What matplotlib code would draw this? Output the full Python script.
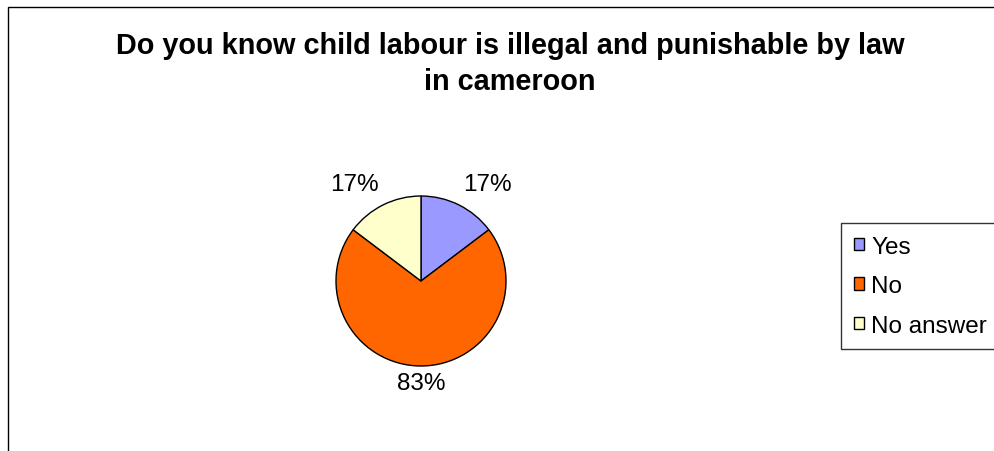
import matplotlib
matplotlib.use('Agg')
import matplotlib.pyplot as plt
from matplotlib.patches import Rectangle

plt.rcParams['font.family'] = ['Liberation Sans', 'DejaVu Sans']

title = 'Do you know child labour is illegal and punishable by law\nin cameroon'
categories = ['Yes', 'No', 'No answer']
values = [5, 24, 5]
value_labels = ['17%', '83%', '17%']
colors = ['#9999FF', '#FF6600', '#FFFFCC']

W, H = 995, 452
fig = plt.figure(figsize=(W / 100, H / 100), dpi=100)

# chart area frame (cut off at right and bottom like the original)
fig.patches.append(Rectangle((8 / W, -0.1), 1.1, 1 - 8 / H + 0.1, transform=fig.transFigure,
                             fill=False, edgecolor='black', linewidth=1.0))

fig.text(510 / W, 1 - 32 / H, title, ha='center', va='top', fontsize=20.8,
         fontweight='bold', linespacing=1.38)

# pie centred at (421, 282) px with radius 85 px
cx, cy, r = 421, 282, 85
ax = fig.add_axes([(cx - r) / W, (H - cy - r) / H, 2 * r / W, 2 * r / H])
wedges, texts = ax.pie(values, colors=colors, startangle=90, counterclock=False,
                       labels=value_labels, labeldistance=1.3,
                       wedgeprops={'edgecolor': 'black', 'linewidth': 1.0},
                       textprops={'fontsize': 17.5, 'ha': 'center', 'va': 'center'})
label_pos = [(0.78, 1.14), (0.0, -1.2), (-0.78, 1.14)]
for t, p in zip(texts, label_pos):
    t.set_position(p)
ax.set_xlim(-1, 1)
ax.set_ylim(-1, 1)
ax.set_aspect('equal')
ax.axis('off')

leg = fig.legend(wedges, categories, loc='upper left',
                 bbox_to_anchor=(841 / W, 1 - 224 / H), borderaxespad=0,
                 fontsize=17.5, frameon=True, fancybox=False, shadow=False,
                 handlelength=0.42, handleheight=0.42, handletextpad=0.3,
                 labelspacing=0.72, borderpad=0.52)
leg.get_frame().set_edgecolor('black')
leg.get_frame().set_linewidth(1.0)
for h in leg.legend_handles:
    h.set_linewidth(1.0)

fig.savefig('out.png', dpi=100)
